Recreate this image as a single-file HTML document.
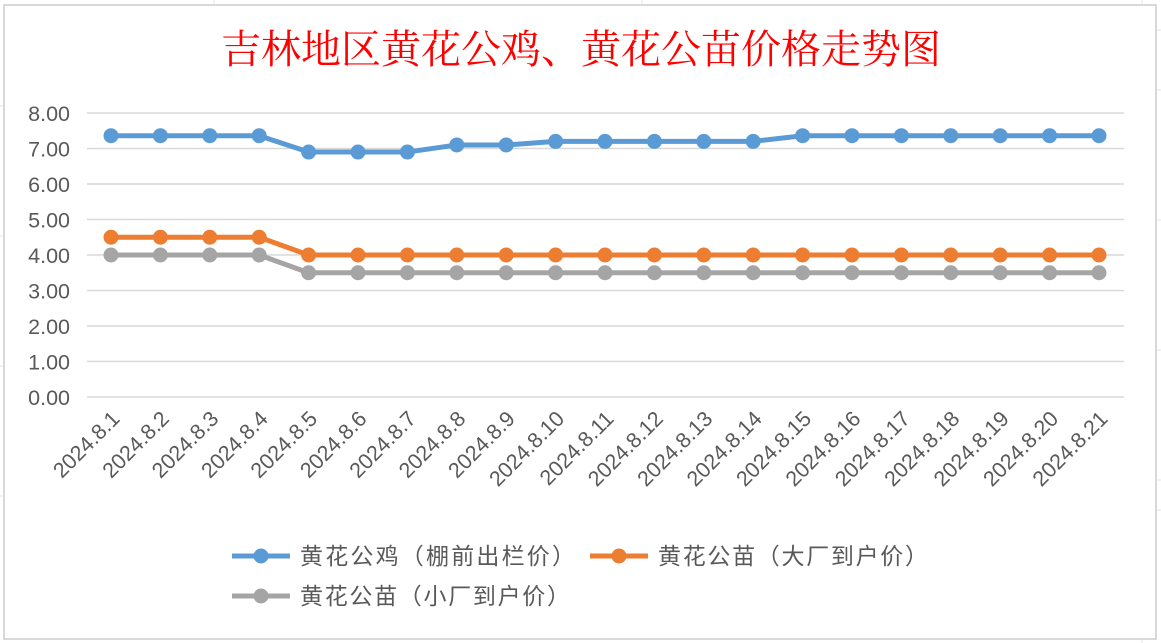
<!DOCTYPE html>
<html><head><meta charset="utf-8"><style>
body{margin:0;width:1161px;height:643px;background:#fff;overflow:hidden}
svg{display:block;font-family:"Liberation Sans","Noto Sans CJK SC",sans-serif}
</style></head><body>
<svg id="c" width="1161" height="643">
<g stroke="#e4e4e4" stroke-width="1">
<line x1="0" y1="106" x2="4" y2="106"/><line x1="0" y1="236" x2="4" y2="236"/><line x1="0" y1="366" x2="4" y2="366"/><line x1="0" y1="496" x2="4" y2="496"/>
<line x1="1157" y1="30" x2="1161" y2="30"/><line x1="1157" y1="90" x2="1161" y2="90"/><line x1="1157" y1="220" x2="1161" y2="220"/><line x1="1157" y1="350" x2="1161" y2="350"/><line x1="1157" y1="480" x2="1161" y2="480"/><line x1="1157" y1="510" x2="1161" y2="510"/>
<line x1="214" y1="0" x2="214" y2="4"/><line x1="642" y1="0" x2="642" y2="4"/><line x1="1142" y1="0" x2="1142" y2="4"/><line x1="1142" y1="640" x2="1142" y2="643"/>
</g>
<rect x="4" y="5" width="1152" height="634" fill="#fff" stroke="#d9d9d9" stroke-width="2"/>
<text x="581" y="63" text-anchor="middle" fill="#ff0000" font-size="40" font-family="'Liberation Serif','Noto Serif CJK SC',serif">吉林地区黄花公鸡、黄花公苗价格走势图</text>
<g id="grid"></g><g id="yt"></g><g id="xt"></g><g id="series"></g>
<g font-size="23" fill="#595959">
<g><line x1="232" y1="556" x2="290" y2="556" stroke="#5b9bd5" stroke-width="5"/><circle cx="261" cy="556" r="7.5" fill="#5b9bd5"/><text x="300" y="564" textLength="275">黄花公鸡（棚前出栏价）</text></g>
<g><line x1="590" y1="556" x2="648" y2="556" stroke="#ed7d31" stroke-width="5"/><circle cx="619" cy="556" r="7.5" fill="#ed7d31"/><text x="658" y="564" textLength="270">黄花公苗（大厂到户价）</text></g>
<g><line x1="232" y1="596" x2="290" y2="596" stroke="#a5a5a5" stroke-width="5"/><circle cx="261" cy="596" r="7.5" fill="#a5a5a5"/><text x="300" y="604" textLength="270">黄花公苗（小厂到户价）</text></g>
</g>
</svg>
<script>
const categories=["2024.8.1","2024.8.2","2024.8.3","2024.8.4","2024.8.5","2024.8.6","2024.8.7","2024.8.8","2024.8.9","2024.8.10","2024.8.11","2024.8.12","2024.8.13","2024.8.14","2024.8.15","2024.8.16","2024.8.17","2024.8.18","2024.8.19","2024.8.20","2024.8.21"];
const roosterValues=[7.36,7.36,7.36,7.36,6.9,6.9,6.9,7.1,7.1,7.2,7.2,7.2,7.2,7.2,7.36,7.36,7.36,7.36,7.36,7.36,7.36];
const chickLargeValues=[4.5,4.5,4.5,4.5,4,4,4,4,4,4,4,4,4,4,4,4,4,4,4,4,4];
const chickSmallValues=[4,4,4,4,3.5,3.5,3.5,3.5,3.5,3.5,3.5,3.5,3.5,3.5,3.5,3.5,3.5,3.5,3.5,3.5,3.5];
const yTicks=[0,1,2,3,4,5,6,7,8];
const yTickLabels=["0.00","1.00","2.00","3.00","4.00","5.00","6.00","7.00","8.00"];
const NS="http://www.w3.org/2000/svg";
const x0=111,x1=1099,yBase=397,yTop=113,plotL=87,plotR=1124;
function xs(i){return x0+i*(x1-x0)/(categories.length-1);}
function ys(v){return yBase-(v/8)*(yBase-yTop);}
function mk(t,a,p){const e=document.createElementNS(NS,t);for(const k in a)e.setAttribute(k,a[k]);p.appendChild(e);return e;}
const grid=document.getElementById('grid'),yt=document.getElementById('yt'),xt=document.getElementById('xt'),ser=document.getElementById('series');
yTicks.forEach((v,i)=>{
 const l=mk('line',{x1:plotL,x2:plotR,y1:ys(v),y2:ys(v),stroke:'#d9d9d9','stroke-width':1.5},grid);
 
 
 const t=mk('text',{x:70,y:ys(v)+8,'text-anchor':'end','font-size':21.5,fill:'#595959'},yt);
 t.textContent=yTickLabels[i];
 
 
});
categories.forEach((c,i)=>{
 const x=xs(i)+10,y=420;
 const t=mk('text',{x:x,y:y,'text-anchor':'end','font-size':21.5,fill:'#595959',transform:`rotate(-45 ${x} ${y})`},xt);
 t.textContent=c;
 
 
});
function drawSeries(vals,color,name){
 const g=mk('g',{},ser);
 
 
 mk('polyline',{points:vals.map((v,i)=>xs(i)+','+ys(v)).join(' '),fill:'none',stroke:color,'stroke-width':5,'stroke-linejoin':'round'},g);
 vals.forEach((v,i)=>{
  const p=mk('circle',{cx:xs(i),cy:ys(v),r:7.5,fill:color},g);
  
  
 });
}
drawSeries(chickSmallValues,'#a5a5a5','series-chick-small');
drawSeries(chickLargeValues,'#ed7d31','series-chick-large');
drawSeries(roosterValues,'#5b9bd5','series-rooster');
</script>
</body></html>
